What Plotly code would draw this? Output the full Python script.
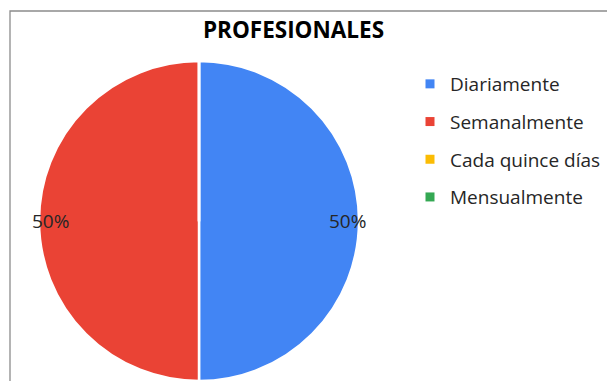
import math
import plotly.graph_objects as go

# Data
categories = ["Diariamente", "Semanalmente", "Cada quince días", "Mensualmente"]
values = [50, 50, 0, 0]
colors = ["#4285F4", "#EA4335", "#FBBC04", "#34A853"]
chart_title = "PROFESIONALES"

W, H = 607, 381
FONT = "Open Sans"

# Pie geometry in pixels (center x, center y from top, radius)
cx, cy, r = 199, 221, 160

fig = go.Figure()

fig.add_trace(go.Pie(
    labels=categories,
    values=values,
    marker=dict(colors=colors, line=dict(color="white", width=2.5)),
    sort=False,
    direction="clockwise",
    rotation=0,
    textinfo="none",
    hoverinfo="label+percent",
    showlegend=False,
    domain=dict(x=[(cx - r) / W, (cx + r) / W], y=[(H - cy - r) / H, (H - cy + r) / H]),
))

# Legend entries, one group per category so the spacing can be set
for cat, col in zip(categories, colors):
    fig.add_trace(go.Scatter(
        x=[None], y=[None], mode="markers", name=cat, legendgroup=cat,
        marker=dict(symbol="square", size=9, color=col),
        showlegend=True, hoverinfo="skip",
    ))

# Percentage labels placed toward the outer edge of each slice
total = sum(values)
start = 0.0
annotations = []
for v in values:
    if v <= 0:
        continue
    frac = v / total
    mid = 2 * math.pi * (start + frac / 2)
    lx = cx + 0.93 * r * math.sin(mid)
    ly = cy - 0.93 * r * math.cos(mid)
    annotations.append(dict(
        x=lx / W, y=1 - ly / H, xref="paper", yref="paper",
        text=f"{round(frac * 100)}%", showarrow=False,
        font=dict(family=FONT, size=19, color="#262626"),
        xanchor="center", yanchor="middle",
    ))
    start += frac

fig.update_layout(
    width=W, height=H,
    margin=dict(l=0, r=0, t=0, b=0),
    paper_bgcolor="white", plot_bgcolor="white",
    title=dict(text=f"<b>{chart_title}</b>", x=293.5 / W, y=1 - 30 / H,
               xanchor="center", yanchor="middle",
               font=dict(family=FONT, size=22.5, color="#000000")),
    xaxis=dict(visible=False), yaxis=dict(visible=False),
    legend=dict(x=410 / W, y=1 - 65 / H, xanchor="left", yanchor="top",
                traceorder="grouped", tracegroupgap=10,
                font=dict(family=FONT, size=19, color="#262626"),
                bgcolor="rgba(0,0,0,0)"),
    annotations=annotations,
    shapes=[dict(type="rect", xref="paper", yref="paper",
                 x0=10 / W, x1=1.05, y0=-0.05, y1=1 - 11 / H,
                 line=dict(color="#8c8c8c", width=1.3), layer="below")],
    showlegend=True,
)

fig.write_html("out.html")
